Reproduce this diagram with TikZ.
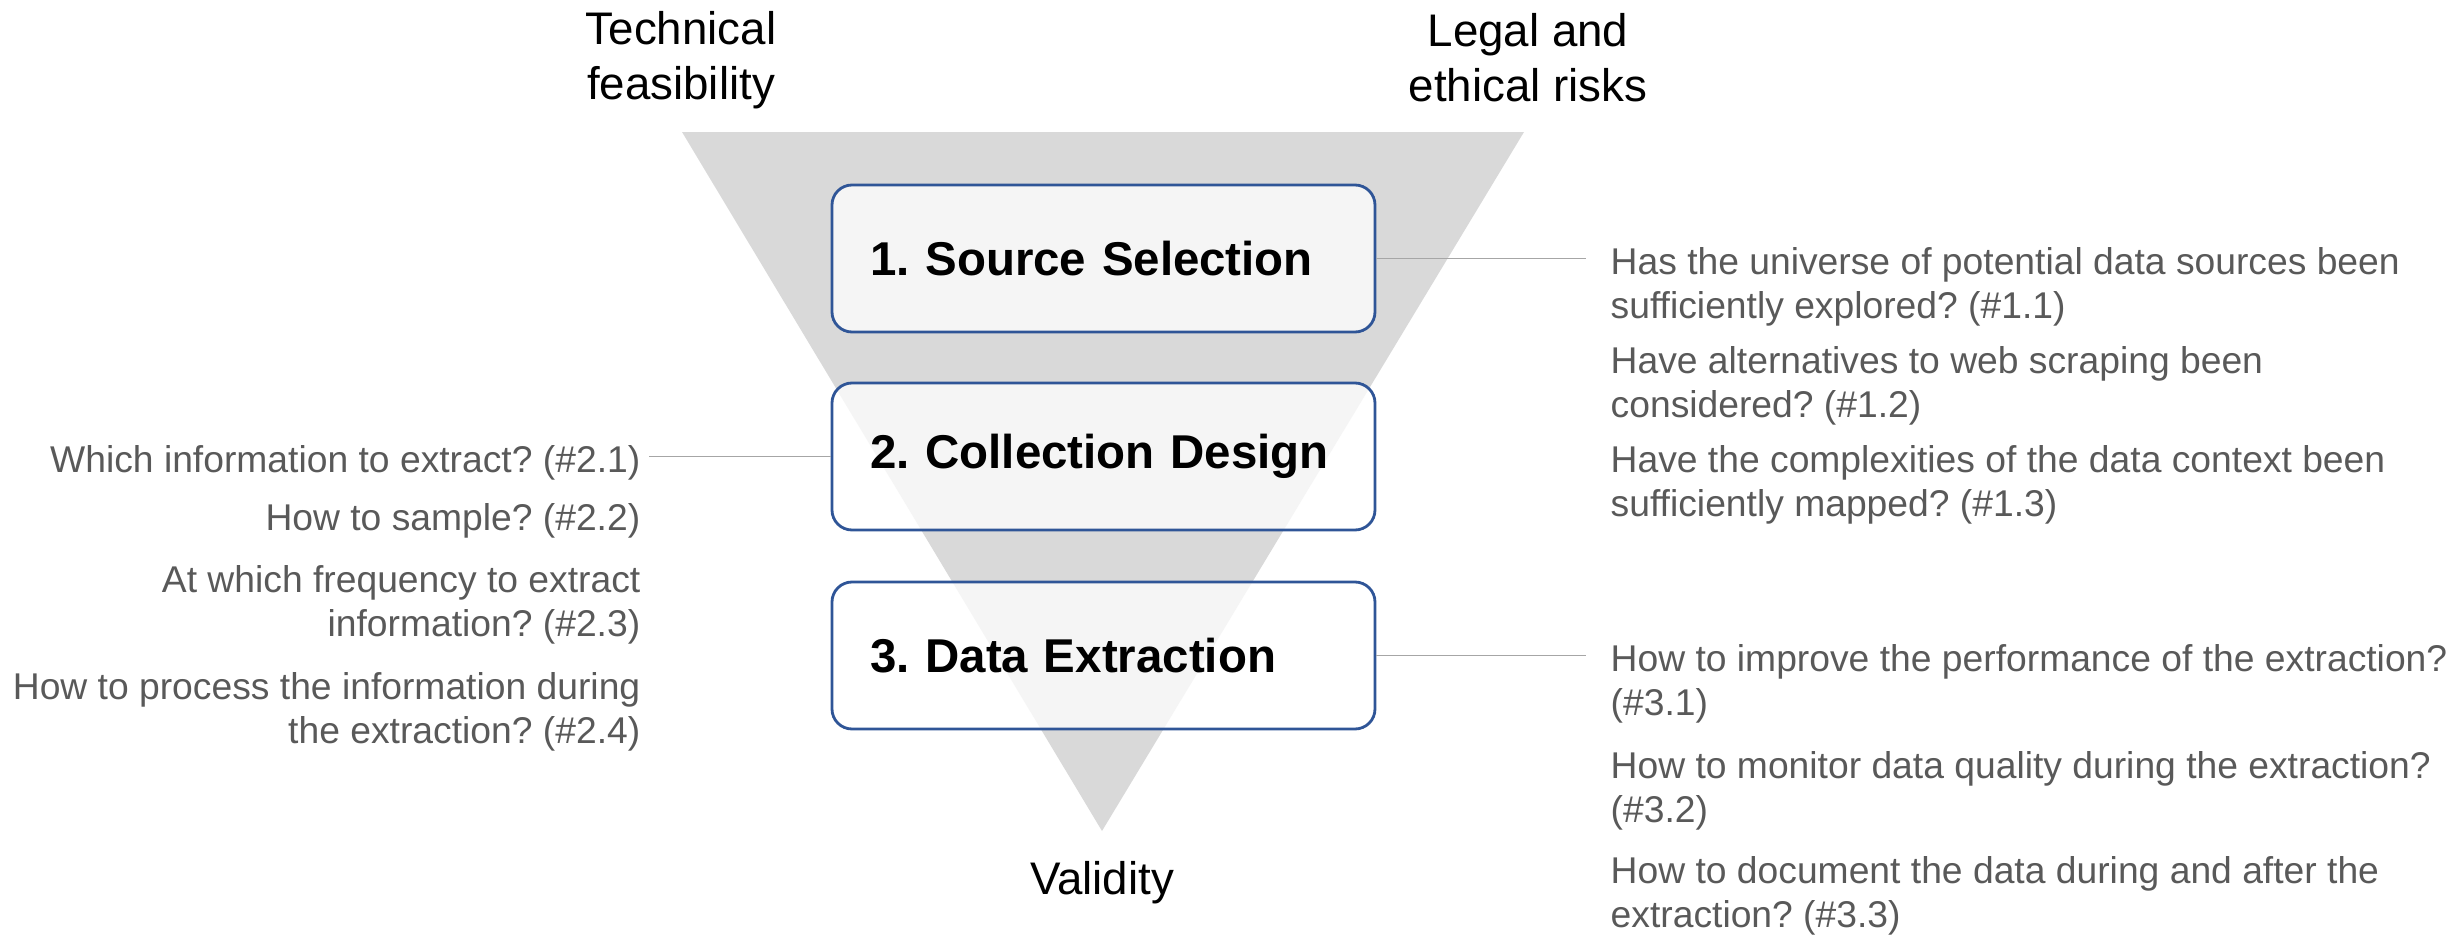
\documentclass[tikz,border=0pt]{standalone}
\usepackage{fontspec}
\setmainfont{Liberation Sans}
\frenchspacing
\definecolor{funnelgray}{HTML}{D9D9D9}
\definecolor{boxblue}{HTML}{2F5597}
\definecolor{qgray}{HTML}{595959}
\definecolor{linkgray}{HTML}{A6A6A6}
\begin{document}
\begin{tikzpicture}[
  stage/.style={draw=boxblue,line width=0.8pt,rounded corners=0.2cm,fill=white,fill opacity=0.75,text opacity=1,
    text width=4.67cm,inner xsep=0.38cm,minimum height=1.47cm,align=left,font=\fontsize{13.5}{16}\selectfont\bfseries},
  quest/.style={text=qgray,inner sep=0pt,font=\fontsize{10.6}{12.5}\selectfont},
  head/.style={align=center,inner sep=0pt,font=\fontsize{13}{15.6}\selectfont},
  link/.style={draw=linkgray,line width=0.5pt}]
 \useasboundingbox (0,0) rectangle (24.58,9.34);
 \fill[funnelgray] (6.82,8.02) -- (15.24,8.02) -- (11.02,1.03) -- cycle;
 \node[head] (tech) at (6.81,8.735) {Technical\\feasibility};
 \node[head] (legal) at (15.28,8.765) {Legal and\\ethical risks};
 \node[head] (valid) at (11.02,0.51) {Validity};
 \node[stage] (src) at (11.035,6.755) {1. Source Selection};
 \node[stage] (design) at (11.035,4.775) {2. Collection Design};
 \node[stage] (extract) at (11.035,2.785) {3. Data Extraction};
 \node[quest,anchor=west,align=left] (q11) at (16.10,6.475) {Has the universe of potential data sources been\\sufficiently explored? (\#1.1)};
 \node[quest,anchor=west,align=left] (q12) at (16.10,5.485) {Have alternatives to web scraping been\\considered? (\#1.2)};
 \node[quest,anchor=west,align=left] (q13) at (16.10,4.495) {Have the complexities of the data context been\\sufficiently mapped? (\#1.3)};
 \node[quest,anchor=east,align=right] (q21) at (6.41,4.715) {Which information to extract? (\#2.1)};
 \node[quest,anchor=east,align=right] (q22) at (6.41,4.13) {How to sample? (\#2.2)};
 \node[quest,anchor=east,align=right] (q23) at (6.41,3.295) {At which frequency to extract\\information? (\#2.3)};
 \node[quest,anchor=east,align=right] (q24) at (6.41,2.22) {How to process the information during\\the extraction? (\#2.4)};
 \node[quest,anchor=west,align=left] (q31) at (16.10,2.50) {How to improve the performance of the extraction?\\(\#3.1)};
 \node[quest,anchor=west,align=left] (q32) at (16.10,1.435) {How to monitor data quality during the extraction?\\(\#3.2)};
 \node[quest,anchor=west,align=left] (q33) at (16.10,0.38) {How to document the data during and after the\\extraction? (\#3.3)};
 \coordinate (e1) at (15.86,6.755);
 \coordinate (e2) at (6.49,4.775);
 \coordinate (e3) at (15.86,2.785);
 \draw[link] (src.east) -- (e1);
 \draw[link] (design.west) -- (e2);
 \draw[link] (extract.east) -- (e3);
\end{tikzpicture}
\end{document}
